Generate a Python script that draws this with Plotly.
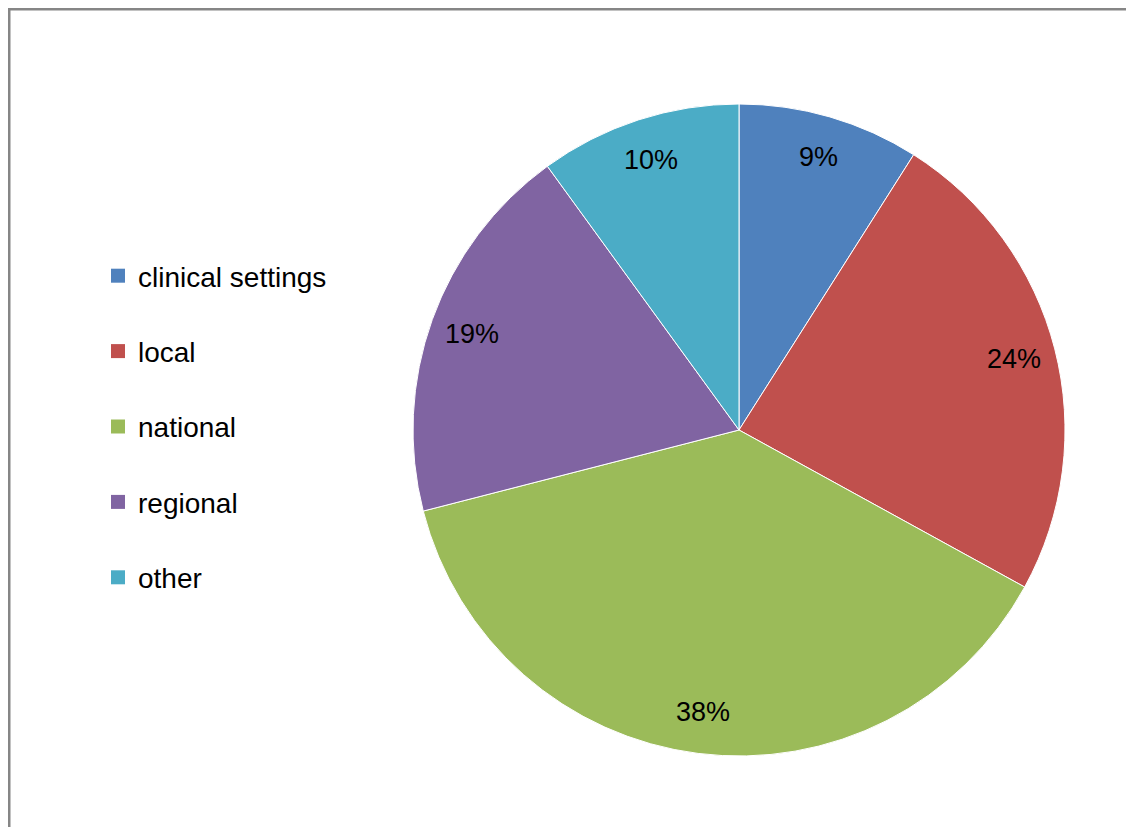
import math
import plotly.graph_objects as go

labels = ["clinical settings", "local", "national", "regional", "other"]
values = [9, 24, 38, 19, 10]
colors = ["#4F81BD", "#C0504D", "#9BBB59", "#8064A2", "#4BACC6"]

# the page adds an 8px body margin; figure sized to fill the rest of the window
W, H = 1126, 819
cx_px, cy_px, R = 731, 422, 326

fig = go.Figure()
fig.add_trace(go.Pie(
    labels=labels, values=values, sort=False, direction="clockwise", rotation=0,
    marker=dict(colors=colors, line=dict(color="white", width=1)),
    textinfo="none", hoverinfo="label+percent", showlegend=False,
    domain=dict(x=[(cx_px - R) / W, (cx_px + R) / W], y=[1 - (cy_px + R) / H, 1 - (cy_px - R) / H]),
))

# legend entries
for lab, col in zip(labels, colors):
    fig.add_trace(go.Scatter(x=[None], y=[None], mode="markers", name=lab, legendgroup=lab,
                             marker=dict(symbol="square", size=14, color=col)))

# percentage labels placed along slice mid-angles
total = sum(values)
cum = 0
rl = 284
for v in values:
    mid = (cum + v / 2) / total * 2 * math.pi
    cum += v
    x = cx_px + rl * math.sin(mid)
    y = cy_px - rl * math.cos(mid)
    fig.add_annotation(x=x / W, y=1 - y / H, xref="paper", yref="paper", xanchor="center", yanchor="middle",
                       text=f"{round(v / total * 100)}%",
                       showarrow=False, font=dict(size=27, color="black", family="Liberation Sans"))

fig.add_shape(type="rect", xref="paper", yref="paper", x0=1 / W, y0=-0.05, x1=1.05, y1=1 - 1 / H,
              line=dict(color="#868686", width=3))

fig.update_layout(
    width=W, height=H, margin=dict(l=0, r=0, t=0, b=0),
    paper_bgcolor="white", plot_bgcolor="white",
    xaxis=dict(visible=False), yaxis=dict(visible=False),
    font=dict(family="Liberation Sans", color="black"),
    legend=dict(x=90 / W, y=1 - 243 / H, xanchor="left", yanchor="top",
                font=dict(size=28, family="Liberation Sans", color="black"),
                tracegroupgap=36, bgcolor="rgba(0,0,0,0)"),
)
fig.write_html("out.html")
